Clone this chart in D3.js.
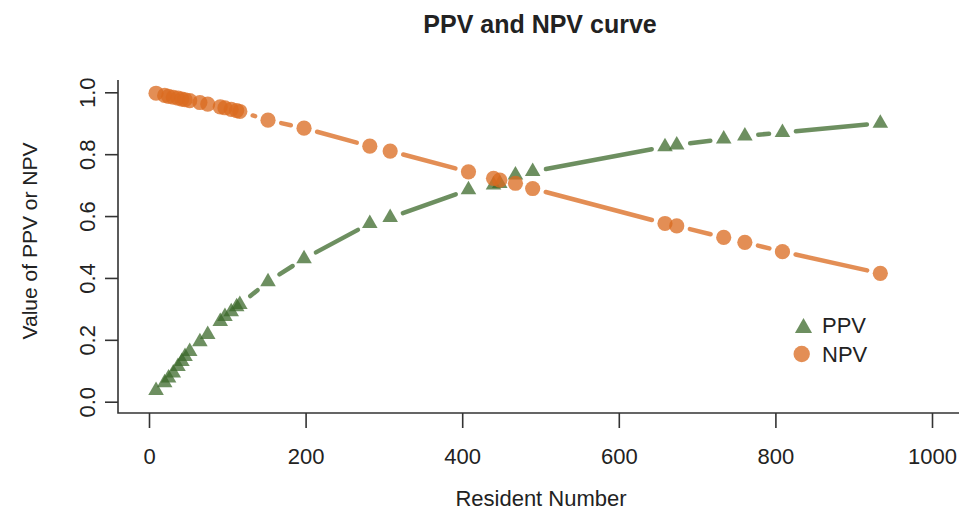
<!DOCTYPE html>
<html>
<head>
<meta charset="utf-8">
<script src="https://cdn.jsdelivr.net/npm/d3@7"></script>
<style>
  html, body { margin: 0; padding: 0; background: #fff; }
  svg { display: block; font-family: "Liberation Sans", Arial, Helvetica, sans-serif; }
</style>
</head>
<body>
<svg id="chart" width="959" height="510"></svg>
<script>
// ---- data ----
const residents = [9, 20, 25, 31, 37, 42, 46, 52, 65, 75, 91, 97, 105, 112, 116, 152, 198, 282, 308, 408, 440, 448, 468, 490, 659, 674, 734, 761, 809, 934];
const ppv = [0.036, 0.061, 0.077, 0.093, 0.114, 0.130, 0.146, 0.162, 0.194, 0.217, 0.259, 0.275, 0.291, 0.307, 0.314, 0.388, 0.462, 0.576, 0.595, 0.685, 0.700, 0.705, 0.733, 0.744, 0.824, 0.830, 0.849, 0.859, 0.870, 0.900];
const npv = [0.997, 0.990, 0.987, 0.984, 0.981, 0.978, 0.976, 0.973, 0.967, 0.962, 0.953, 0.950, 0.945, 0.941, 0.938, 0.910, 0.884, 0.826, 0.810, 0.743, 0.722, 0.716, 0.706, 0.689, 0.576, 0.568, 0.531, 0.515, 0.485, 0.415];
const xTicks = [0, 200, 400, 600, 800, 1000];
const yTicks = [0.0, 0.2, 0.4, 0.6, 0.8, 1.0];
const title = "PPV and NPV curve";
const xTitle = "Resident Number";
const yTitle = "Value of PPV or NPV";
const seriesNames = ["PPV", "NPV"];

// ---- layout ----
const svg = d3.select("#chart");
const box = { left: 118, top: 80, bottom: 413, right: 959 };
const x = d3.scaleLinear().domain([0, 1000]).range([149, 932]);
const y = d3.scaleLinear().domain([0, 1]).range([401.7, 92.3]);

const green = "rgba(58,104,40,0.74)";
const orange = "rgba(218,106,32,0.76)";
const axisCol = "#333";
const textCol = "#222";

// L-shaped box
svg.append("path")
  .attr("d", `M${box.left},${box.top}V${box.bottom}H${box.right}`)
  .attr("fill", "none").attr("stroke", axisCol).attr("stroke-width", 1.6);

// x axis
const gx = svg.append("g").attr("transform", `translate(0,${box.bottom})`)
  .call(d3.axisBottom(x).tickValues(xTicks).tickSize(15).tickFormat(d3.format("d")));
gx.select(".domain").remove();
gx.selectAll(".tick line").attr("stroke", axisCol).attr("stroke-width", 1.6);
gx.selectAll(".tick text").attr("y", 51).attr("dy", 0)
  .attr("fill", textCol).style("font-size", "22px");

// y axis
const gy = svg.append("g").attr("transform", `translate(${box.left},0)`)
  .call(d3.axisLeft(y).tickValues(yTicks).tickSize(13).tickFormat(d3.format(".1f")));
gy.select(".domain").remove();
gy.selectAll(".tick line").attr("stroke", axisCol).attr("stroke-width", 1.6);
gy.selectAll(".tick text")
  .attr("x", null).attr("dy", null)
  .attr("text-anchor", "middle")
  .attr("transform", "translate(-23,0) rotate(-90)")
  .attr("fill", textCol).style("font-size", "22px");

// titles
svg.append("text").attr("x", 540).attr("y", 33).attr("text-anchor", "middle")
  .attr("font-weight", "bold").style("font-size", "25px").attr("fill", textCol).text(title);
svg.append("text").attr("x", 541).attr("y", 506).attr("text-anchor", "middle")
  .style("font-size", "22px").attr("fill", textCol).text(xTitle);
svg.append("text").attr("transform", "translate(37,241) rotate(-90)").attr("text-anchor", "middle")
  .style("font-size", "21px").attr("fill", textCol).text(yTitle);

// type="b" segments (gaps around points)
const gap = 13.5;
function drawSeries(vals, color, marker) {
  const pts = residents.map((r, i) => [x(r), y(vals[i])]);
  const g = svg.append("g");
  for (let i = 0; i < pts.length - 1; i++) {
    const [x1, y1] = pts[i], [x2, y2] = pts[i + 1];
    const dx = x2 - x1, dy = y2 - y1, d = Math.hypot(dx, dy);
    if (d > 2 * gap) {
      const ux = dx / d, uy = dy / d;
      g.append("line")
        .attr("x1", x1 + ux * gap).attr("y1", y1 + uy * gap)
        .attr("x2", x2 - ux * gap).attr("y2", y2 - uy * gap)
        .attr("stroke", color).attr("stroke-width", 4.5).attr("stroke-linecap", "round");
    }
  }
  pts.forEach(p => marker(g, p[0], p[1], color, 1));
}
function tri(g, cx, cy, color, s) {
  const r = 9 * s;
  g.append("path")
    .attr("d", `M${cx},${cy - r}L${cx + 0.866 * r},${cy + 0.5 * r}L${cx - 0.866 * r},${cy + 0.5 * r}Z`)
    .attr("fill", color);
}
function dot(g, cx, cy, color, s) {
  g.append("circle").attr("cx", cx).attr("cy", cy).attr("r", 7.6 * s).attr("fill", color);
}
drawSeries(ppv, green, tri);
drawSeries(npv, orange, dot);

// legend
const lg = svg.append("g");
tri(lg, 803.5, 328, green, 1.1);
dot(lg, 801.7, 354, orange, 1.08);
lg.append("text").attr("x", 822).attr("y", 333).style("font-size", "22px").attr("fill", textCol).text(seriesNames[0]);
lg.append("text").attr("x", 822).attr("y", 361.5).style("font-size", "22px").attr("fill", textCol).text(seriesNames[1]);
</script>
</body>
</html>
